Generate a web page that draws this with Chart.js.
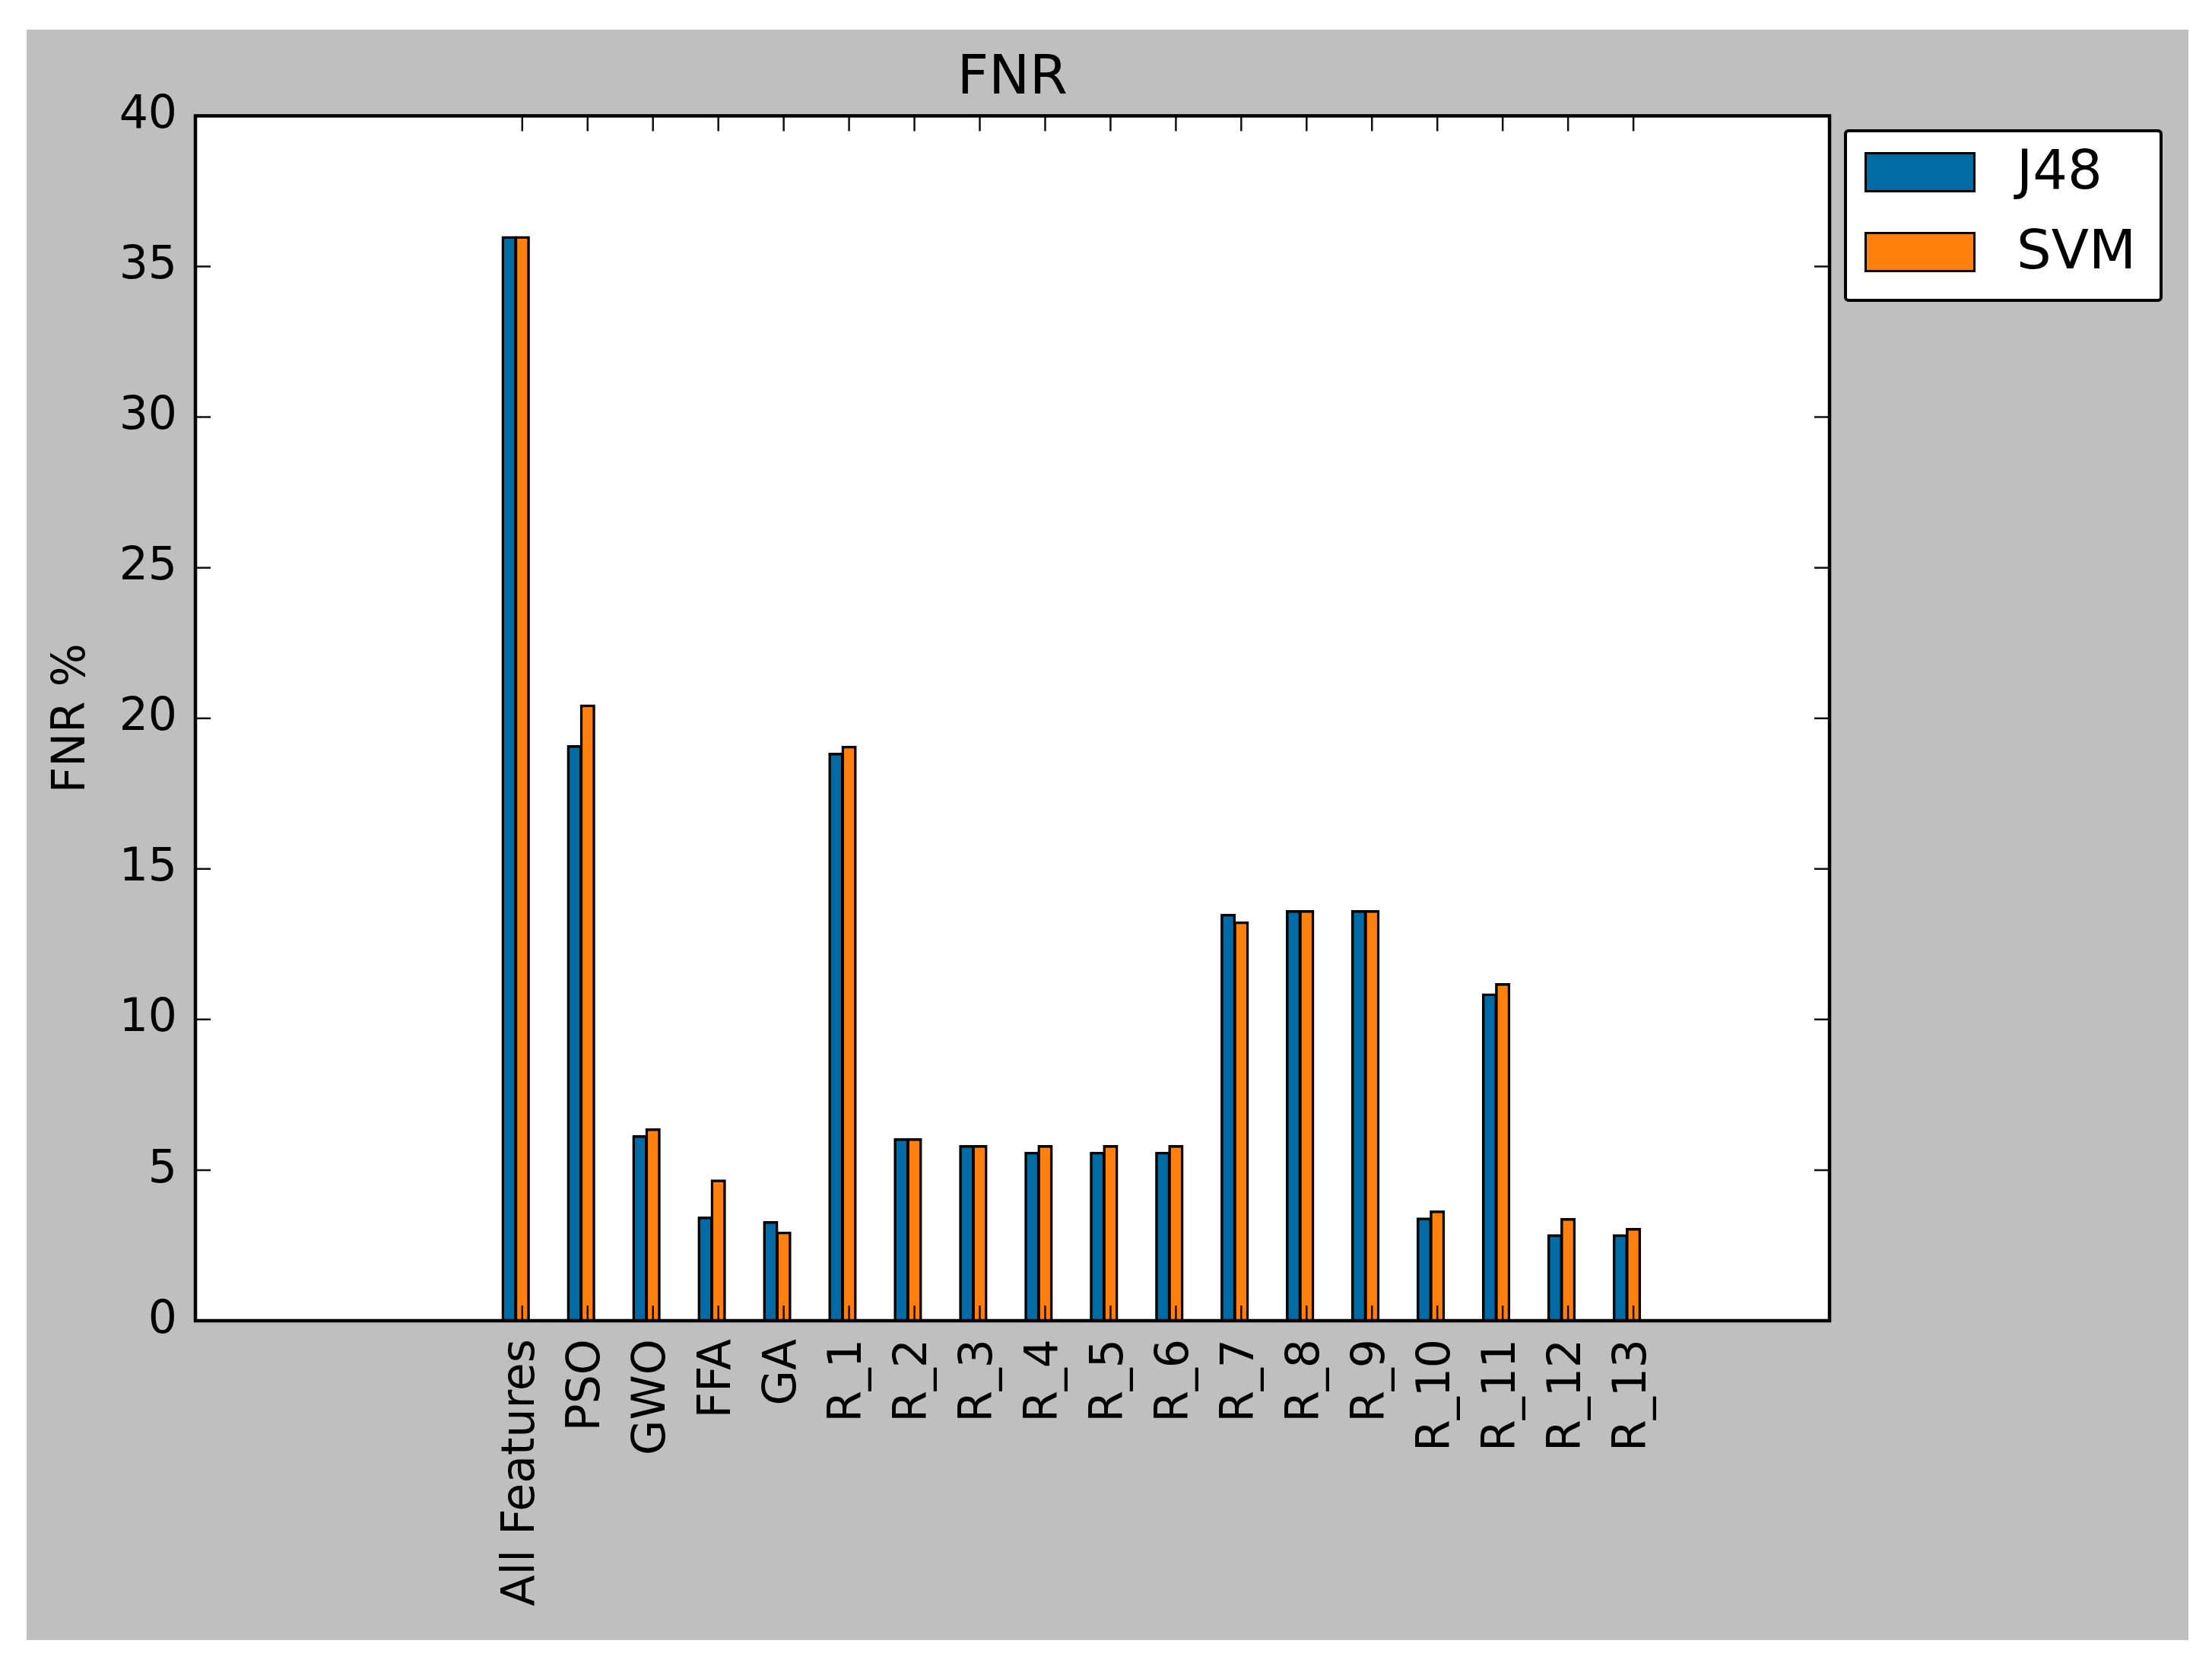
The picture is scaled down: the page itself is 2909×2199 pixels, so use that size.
<!DOCTYPE html>
<html>
<head>
<meta charset="utf-8">
<title>FNR</title>
<script src="https://cdn.jsdelivr.net/npm/chart.js@4.4.1/dist/chart.umd.min.js"></script>
<style>
  body { margin: 0; background: #fff; }
  #figure { position: absolute; left: 35px; top: 39px; width: 2843px; height: 2118px; background: #bfbfbf; }
  #fnrChart { position: absolute; left: 0; top: 0; }
  #legend {
    position: absolute; left: 2390px; top: 131px; width: 419px; height: 227px;
    box-sizing: border-box; border: 4px solid #000; border-radius: 6px; background: #fff;
    font-family: "DejaVu Sans", sans-serif; font-size: 72px; color: #000;
  }
  .legend-item { position: absolute; left: 23px; height: 53px; display: flex; align-items: center; }
  .legend-patch { width: 146px; height: 53px; box-sizing: border-box; border: 3.5px solid #000; }
  .legend-text { margin-left: 54px; line-height: 53px; position: relative; top: -3px; }
</style>
</head>
<body>
<div id="figure">
  <canvas id="fnrChart" width="2843" height="2118"></canvas>
  <div id="legend"></div>
</div>
<script>
// Chart values
const categories = ["All Features", "PSO", "GWO", "FFA", "GA", "R_1", "R_2", "R_3", "R_4",
    "R_5", "R_6", "R_7", "R_8", "R_9", "R_10", "R_11", "R_12", "R_13"];
const j48Values = [36.0, 19.1, 6.15, 3.45, 3.3, 18.85, 6.05, 5.82, 5.6, 5.6, 5.6, 13.5, 13.62, 13.62, 3.42, 10.86, 2.86, 2.86];
const svmValues = [36.0, 20.45, 6.38, 4.68, 2.95, 19.08, 6.05, 5.82, 5.82, 5.82, 5.82, 13.25, 13.62, 13.62, 3.65, 11.2, 3.4, 3.07];
const yTicks = [0, 5, 10, 15, 20, 25, 30, 35, 40];

// bar width in x units, J48 sits one bar width left of the tick (like ax.bar(ind - w))
const barWidth = 0.2;

Chart.defaults.font.family = "DejaVu Sans";
Chart.defaults.color = "#000";

// White plot area, inward ticks on all four sides and the black frame
const frameAndTicks = {
    id: "frameAndTicks",
    beforeDraw(chart) {
        const { ctx, chartArea: a } = chart;
        ctx.save();
        ctx.fillStyle = "#fff";
        ctx.fillRect(a.left, a.top, a.right - a.left, a.bottom - a.top);
        ctx.restore();
    },
    afterDatasetsDraw(chart) {
        const { ctx, chartArea: a, scales } = chart;
        const len = 20;
        ctx.save();
        ctx.strokeStyle = "#111";
        ctx.lineWidth = 2.5;
        ctx.beginPath();
        scales.x.ticks.forEach((t) => {
            const px = scales.x.getPixelForValue(t.value);
            ctx.moveTo(px, a.bottom);
            ctx.lineTo(px, a.bottom - len);
            ctx.moveTo(px, a.top);
            ctx.lineTo(px, a.top + len);
        });
        scales.y.ticks.forEach((t) => {
            const py = scales.y.getPixelForValue(t.value);
            ctx.moveTo(a.left, py);
            ctx.lineTo(a.left + len, py);
            ctx.moveTo(a.right, py);
            ctx.lineTo(a.right - len, py);
        });
        ctx.stroke();
        ctx.strokeStyle = "#000";
        ctx.lineWidth = 4.5;
        ctx.strokeRect(a.left, a.top, a.right - a.left, a.bottom - a.top);
        ctx.restore();
    }
};

const barStyle = {
    grouped: false,
    barThickness: 19.5,
    borderWidth: 3.5,
    borderColor: "#000",
    borderSkipped: "start"
};

const chart = new Chart(document.querySelector("#fnrChart"), {
    type: "bar",
    data: {
        datasets: [
            {
                label: "J48",
                data: j48Values.map((v, i) => ({ x: i - barWidth, y: v })),
                backgroundColor: "#006BA4",
                ...barStyle
            },
            {
                label: "SVM",
                data: svmValues.map((v, i) => ({ x: i, y: v })),
                backgroundColor: "#FF800E",
                ...barStyle
            }
        ]
    },
    options: {
        responsive: false,
        animation: false,
        layout: { padding: { left: 0, top: 0, right: 472, bottom: 0 } },
        plugins: {
            legend: { display: false },
            tooltip: { enabled: false },
            title: {
                display: true,
                text: "FNR",
                fullSize: false,
                color: "#000",
                font: { size: 72, weight: "normal" },
                padding: { top: 22, bottom: 5 }
            }
        },
        scales: {
            x: {
                type: "linear",
                min: -5,
                max: 20,
                offset: false,
                grid: { display: false, drawTicks: false, offset: false },
                border: { display: false },
                afterBuildTicks: (scale) => {
                    scale.ticks = categories.map((c, i) => ({ value: i }));
                },
                afterFit: (scale) => { scale.height = 420; },
                ticks: {
                    autoSkip: false,
                    minRotation: 90,
                    maxRotation: 90,
                    padding: 24,
                    font: { size: 60 },
                    callback: (value) => categories[value] ?? ""
                }
            },
            y: {
                min: 0,
                max: 40,
                grid: { display: false, drawTicks: false },
                border: { display: false },
                afterBuildTicks: (scale) => {
                    scale.ticks = yTicks.map((v) => ({ value: v }));
                },
                afterFit: (scale) => { scale.width = 222; },
                ticks: { padding: 24, font: { size: 60 } },
                title: {
                    display: true,
                    text: "FNR %",
                    font: { size: 60 },
                    padding: { top: 24, bottom: 0 }
                }
            }
        }
    },
    plugins: [frameAndTicks]
});

// Legend box built from the chart's datasets
const legendBox = document.querySelector("#legend");
chart.data.datasets.forEach((ds, i) => {
    const item = document.createElement("div");
    item.className = "legend-item";
    item.style.top = (26 + i * 105) + "px";

    const patch = document.createElement("div");
    patch.className = "legend-patch";
    patch.style.background = ds.backgroundColor;

    const text = document.createElement("span");
    text.className = "legend-text";
    text.textContent = ds.label;

    item.appendChild(patch);
    item.appendChild(text);
    legendBox.appendChild(item);
});
</script>
</body>
</html>
